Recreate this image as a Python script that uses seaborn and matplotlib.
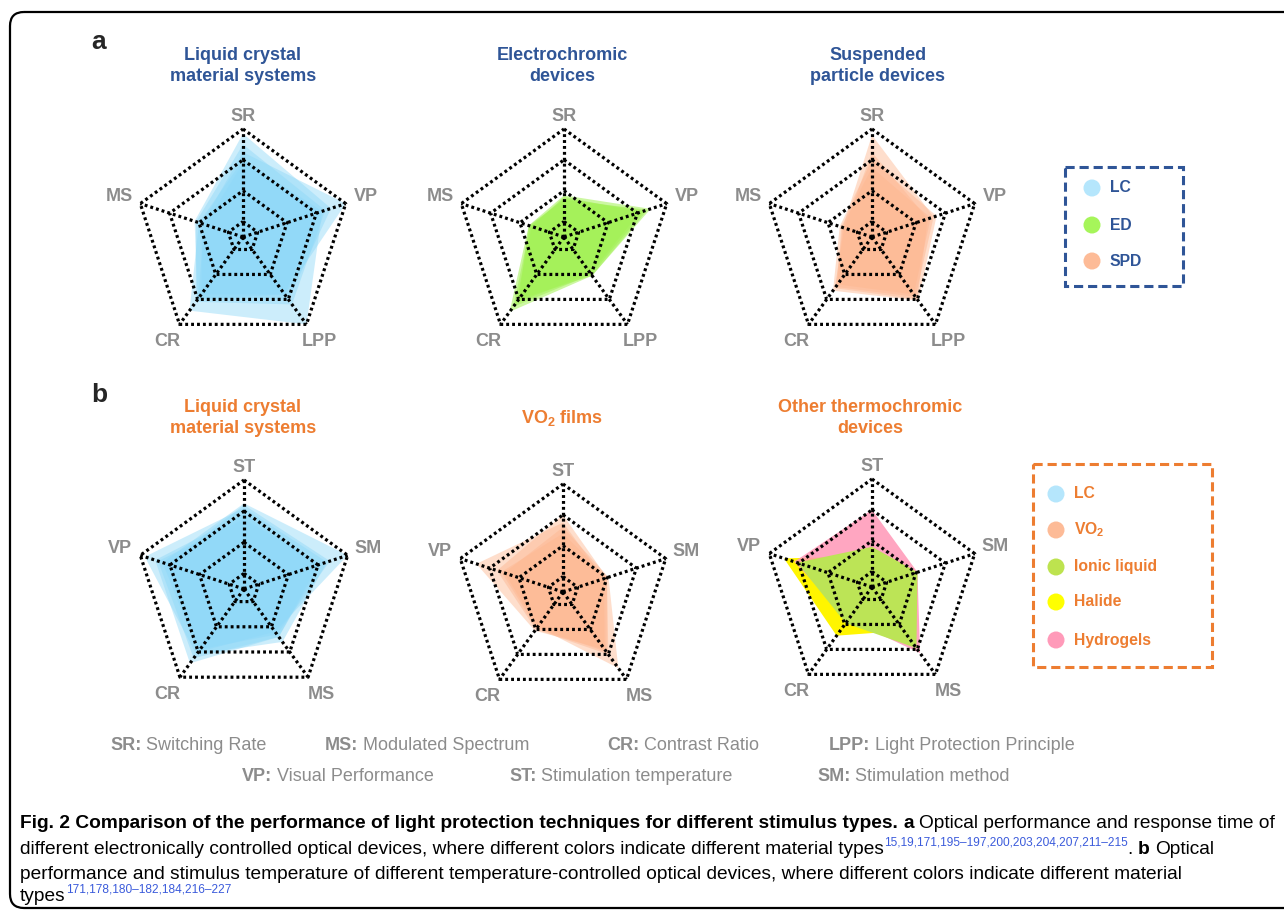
import numpy as np
import matplotlib
matplotlib.use("Agg")
import matplotlib.pyplot as plt
import seaborn as sns
from matplotlib.patches import FancyBboxPatch, Rectangle

sns.set_theme(style="white")
plt.rcParams["font.family"] = ["Liberation Sans", "DejaVu Sans"]
plt.rcParams["mathtext.fontset"] = "custom"
plt.rcParams["mathtext.rm"] = "Liberation Sans"
plt.rcParams["mathtext.bf"] = "Liberation Sans:bold"

W, H = 1284, 919

# ---------------------------------------------------------------- data
axes_a = ["SR", "VP", "LPP", "CR", "MS"]
axes_b = ["ST", "SM", "MS", "CR", "VP"]
ring_levels = [1, 3, 5, 7]

titles_a = ["Liquid crystal\nmaterial systems", "Electrochromic\ndevices",
            "Suspended\nparticle devices"]
titles_b = ["Liquid crystal\nmaterial systems", r"VO$_\mathbf{2}$ films",
            "Other thermochromic\ndevices"]

# scores on a 0-7 scale, one row per reported device (order: axes_a)
lc_a = [[6.7, 6.0, 5.0, 5.0, 3.3],
        [5.5, 7.0, 4.6, 4.6, 2.8],
        [5.0, 5.4, 7.0, 5.9, 3.0],
        [6.0, 5.6, 5.4, 5.2, 3.2],
        [4.8, 5.2, 4.6, 5.0, 2.6]]
ed_a = [[2.7, 5.9, 3.1, 6.0, 2.4],
        [2.5, 5.5, 3.0, 5.6, 2.3],
        [2.6, 5.2, 2.9, 5.3, 2.2],
        [2.4, 5.7, 3.1, 5.0, 2.4]]
spd_a = [[6.6, 4.2, 4.8, 4.0, 2.0],
         [5.0, 4.4, 5.1, 4.3, 2.2],
         [4.5, 4.0, 4.6, 3.8, 2.1],
         [5.5, 3.8, 5.0, 4.1, 1.9]]

# order: axes_b
lc_b = [[5.5, 7.0, 3.4, 5.0, 5.5],
        [5.2, 5.6, 4.2, 5.2, 6.7],
        [4.8, 5.0, 3.8, 5.9, 6.0],
        [5.4, 5.8, 3.6, 4.8, 5.2],
        [4.5, 5.2, 3.8, 5.5, 5.8]]
vo2_b = [[5.0, 3.0, 5.0, 3.0, 4.5],
         [4.2, 3.1, 6.1, 2.8, 4.0],
         [4.5, 2.8, 4.6, 3.1, 5.9],
         [3.8, 3.0, 4.8, 2.9, 4.2]]
halide_b = [[2.0, 2.8, 3.5, 3.9, 6.0]]
hydrogel_b = [[5.0, 3.1, 5.3, 2.6, 5.3]]
ionic_b = [[2.6, 3.1, 4.9, 2.9, 5.1]]

legend_a = ["LC", "ED", "SPD"]
legend_b = ["LC", r"VO$_\mathbf{2}$", "Ionic liquid", "Halide", "Hydrogels"]

abbrev_row1 = [("SR:", "Switching Rate"), ("MS:", "Modulated Spectrum"),
               ("CR:", "Contrast Ratio"), ("LPP:", "Light Protection Principle")]
abbrev_row2 = [("VP:", "Visual Performance"), ("ST:", "Stimulation temperature"),
               ("SM:", "Stimulation method")]

caption_lines = [
    [("Fig. 2 Comparison of the performance of light protection "
      "techniques for different stimulus types.", "b"),
     (" a", "b"), (" Optical performance and response time of", "r")],
    [("different electronically controlled optical devices, where "
      "different colors indicate different material types", "r"),
     ("15,19,171,195\u2013197,200,203,204,207,211\u2013215", "sup"),
     (".", "r"), (" b", "b"), (" Optical", "r")],
    [("performance and stimulus temperature of different "
      "temperature-controlled optical devices, where different "
      "colors indicate different material", "r")],
    [("types", "r"), ("171,178,180\u2013182,184,216\u2013227", "sup")],
]

# ---------------------------------------------------------------- style
pal = dict(zip(["LC", "ED", "SPD", "Ionic", "Halide", "Hydrogel"],
               sns.color_palette(["#8ed8f8", "#a2f154", "#fdb68f",
                                  "#bce456", "#fff500", "#ff97b6"])))
legend_fill = ["#b5e6fc", "#a6f55a", "#fdbb97", "#bde34f", "#ffff00", "#ff9ab9"]
BLUE, ORANGE, GREY = "#2f5597", "#ed7d31", "#8c8c8c"
CAPFONT = ["Liberation Sans", "DejaVu Sans"]

fig = plt.figure(figsize=(W / 100, H / 100), dpi=100)
base = fig.add_axes([0, 0, 1, 1])
base.set_xlim(0, W)
base.set_ylim(H, 0)
base.axis("off")

# outer frame
base.add_patch(FancyBboxPatch((10, 12), 1320, 896,
                              boxstyle="round,pad=0,rounding_size=14",
                              fc="none", ec="black", lw=1.6, clip_on=False))

DOT = dict(color="black", lw=2.3, ls=(0, (0.9, 0.95)), clip_on=False,
           solid_capstyle="butt", dash_capstyle="butt")


def radar(cx, cy, R, labels, layers):
    ax = fig.add_axes([(cx - R) / W, 1 - (cy + R) / H, 2 * R / W, 2 * R / H],
                      projection="polar")
    ax.set_theta_zero_location("N")
    ax.set_theta_direction(-1)
    ax.set_ylim(0, 7)
    ax.set_axis_off()
    theta = np.deg2rad(np.arange(5) * 72.0)
    tc = np.append(theta, theta[0])
    for rows, color, alpha in layers:
        for vals in rows:
            ax.fill(tc, np.append(vals, vals[0]), color=color, alpha=alpha,
                    lw=0, zorder=1)
    for lev in ring_levels:
        ax.plot(tc, [lev] * 6, zorder=3, **DOT)
    for t in theta:
        ax.plot([t, t], [0, 7], zorder=3, **DOT)
    for t, lab in zip(theta, labels):
        r = 7.8 if t == 0 else 8.4
        ax.text(t, r, lab, ha="center", va="center", fontsize=13,
                fontweight="bold", color=GREY, clip_on=False)
    return ax


radar(243, 237, 108, axes_a, [(lc_a, pal["LC"], 0.45)])
radar(564, 237, 108, axes_a, [(ed_a, pal["ED"], 0.55)])
radar(872, 237, 108, axes_a, [(spd_a, pal["SPD"], 0.45)])
radar(244, 589, 109, axes_b, [(lc_b, pal["LC"], 0.45)])
radar(563, 592, 108, axes_b, [(vo2_b, pal["SPD"], 0.45)])
radar(872, 587, 108, axes_b, [(halide_b, pal["Halide"], 1.0),
                              (hydrogel_b, pal["Hydrogel"], 0.85),
                              (ionic_b, pal["Ionic"], 1.0)])

# panel titles and letters
for x, t in zip([243, 562, 878], titles_a):
    base.text(x, 66, t, ha="center", va="center", fontsize=13,
              fontweight="bold", color=BLUE, linespacing=1.3)
for x, t in zip([243, 562, 870], titles_b):
    base.text(x, 418, t, ha="center", va="center", fontsize=13,
              fontweight="bold", color=ORANGE, linespacing=1.3)
base.text(99, 42, "a", ha="center", va="center", fontsize=19, fontweight="bold")
base.text(99, 395, "b", ha="center", va="center", fontsize=19, fontweight="bold")

# legends
base.add_patch(Rectangle((1065, 167), 118, 119, fc="none", ec=BLUE, lw=2.2,
                         ls=(0, (3, 1.6))))
ya = [188, 225, 261]
base.scatter([1092] * 3, ya, s=150, c=legend_fill[:3], linewidths=0, zorder=3)
for y, lab in zip(ya, legend_a):
    base.text(1110, y, lab, ha="left", va="center", fontsize=11.3,
              fontweight="bold", color=BLUE)

base.add_patch(Rectangle((1033, 464), 179, 203, fc="none", ec=ORANGE, lw=2.2,
                         ls=(0, (3, 1.6))))
yb = [494, 530, 567, 602, 640]
base.scatter([1056] * 5, yb, s=150,
             c=[legend_fill[0], legend_fill[2], legend_fill[3], legend_fill[4],
                legend_fill[5]], linewidths=0, zorder=3)
for y, lab in zip(yb, legend_b):
    base.text(1074, y, lab, ha="left", va="center", fontsize=11.3,
              fontweight="bold", color=ORANGE)

renderer = fig.canvas.get_renderer()


def runs(x, y, parts, size, family, color="black", draw=True):
    """Lay text pieces one after another on a shared baseline."""
    px = size * 100 / 72
    x0 = x
    for text, kind in parts:
        if text.startswith(" "):
            x += 0.27 * px
            text = text[1:]
        if kind == "sup":
            t = base.text(x, y - 0.42 * px, text, fontsize=size * 0.62,
                          color="#3b5bdb", family=family, va="baseline")
        else:
            t = base.text(x, y, text, fontsize=size, color=color,
                          fontweight="bold" if kind == "b" else "normal",
                          family=family, va="baseline")
        x += t.get_window_extent(renderer).width
        if not draw:
            t.remove()
    return x - x0


# abbreviation key
for (abbr, full), x in zip(abbrev_row1, [110, 325, 607, 829]):
    runs(x, 750, [(abbr, "b"), (" " + full, "r")], 13.0, CAPFONT, GREY)
for (abbr, full), x in zip(abbrev_row2, [242, 509, 817]):
    runs(x, 781, [(abbr, "b"), (" " + full, "r")], 13.0, CAPFONT, GREY)

# caption: size chosen so the first line spans the frame width
probe = 12.0
cap = probe * 1254 / runs(20, 828, caption_lines[0], probe, CAPFONT, draw=False)
for y, parts in zip([828, 854, 879, 901], caption_lines):
    runs(20, y, parts, cap, CAPFONT)

fig.savefig("out.png", dpi=100)
